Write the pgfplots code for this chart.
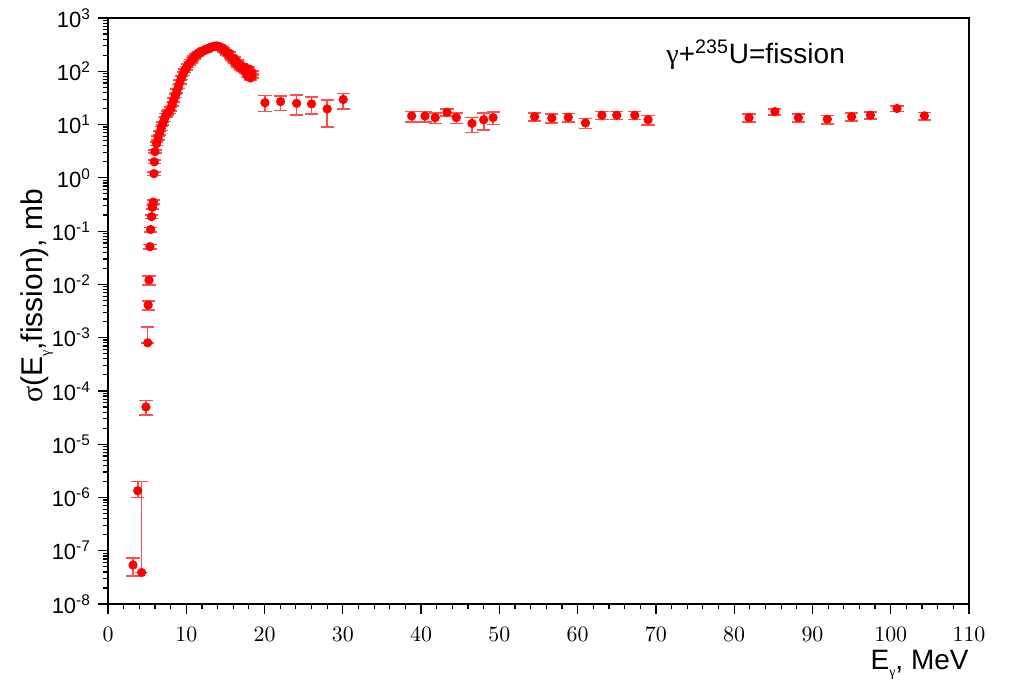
\documentclass[border=0pt]{standalone}
\usepackage{fontspec}
\setmainfont{Liberation Sans}
\newfontfamily\greek{Liberation Serif}
\usepackage{pgfplots}
\usepackage{pgfplotstable}
\pgfplotsset{compat=1.18}

\def\myminor{}
\foreach \e in {-8,...,2}{\foreach \m in {2,...,9}{\xdef\myminor{\myminor\m e\e,}}}
\xdef\myminor{\myminor 1e3}

\newcommand{\sgam}{\raisebox{-0.45ex}{\fontsize{7}{8}\selectfont\greek γ}}

\pgfplotsset{mystyle/.style={
  red, only marks, mark=*, mark size=2.1pt, mark options={fill=red, draw=red},
  error bars/y dir=both, error bars/y explicit,
  error bars/error bar style={red!70, line width=0.8pt},
  error bars/error mark options={rotate=90, mark size=3.3pt, red!70, line width=0.8pt}}}

\pgfplotstableread{
x y ep em
3.2 5.4e-8 2.0e-8 2.0e-8
4.3 3.9e-8 1.96e-6 0
3.8 1.34e-6 0.66e-6 0.34e-6
4.85 5.0e-5 1.6e-5 1.5e-5
5.07 8e-4 8e-4 0
5.13 4.1e-3 0.8e-3 0.8e-3
5.24 1.2e-2 0.25e-2 0.23e-2
5.36 0.051 0.005 0.005
5.45 0.107 0.01 0.01
5.57 0.187 0.015 0.015
5.66 0.28 0.02 0.02
5.79 0.35 0.03 0.03
5.87 1.2 0.1 0.1
5.91 2.0 0.15 0.15
6.0 3.1 0.2 0.2
}\lowE

\pgfplotstableread{
x y ep em
6.2 4.4 0.35 0.35
6.4 5.6 0.45 0.45
6.6 7.0 0.55 0.55
6.8 8.5 0.7 0.7
7.0 10.5 0.8 0.8
7.2 12.5 1.0 1.0
7.4 15 1.2 1.2
7.6 16.5 1.3 1.3
7.8 17.5 1.4 1.4
8.0 19.5 1.6 1.6
8.2 24 1.9 1.9
8.4 29 2.3 2.3
8.6 35 2.8 2.8
8.8 43 3.4 3.4
9.0 52 4.2 4.2
9.2 63 5 5
9.4 76 6 6
9.6 90 7 7
9.8 103 8 8
10.0 115 9 9
10.2 128 10 10
10.4 142 11 11
10.6 155 12 12
10.8 168 13 13
11.0 182 14 14
11.2 196 15 15
11.4 208 16 16
11.6 218 17 17
11.8 228 18 18
12.0 237 19 19
12.2 246 19 19
12.4 253 20 20
12.6 260 20 20
12.8 268 21 21
13.0 277 22 22
13.2 283 22 22
13.4 289 23 23
13.6 294 23 23
13.8 298 24 24
14.0 296 24 24
14.2 291 23 23
14.4 282 22 22
14.6 267 21 21
14.8 251 20 20
15.0 236 19 19
15.2 222 18 18
15.4 207 17 17
15.5 215 17 17
15.6 193 15 15
15.8 178 14 14
16.0 164 13 13
16.2 152 12 12
16.2 170 14 14
16.4 141 11 11
16.5 150 12 12
16.6 131 10 10
16.8 123 10 10
17.0 116 9 9
17.0 130 10 10
17.2 110 9 9
17.4 104 8 8
17.5 118 9 9
17.6 99 8 8
17.8 94 7 7
17.8 82 6 6
18.0 88 7 7
18.0 110 9 9
18.2 84 7 7
18.2 75 6 6
18.4 80 6 6
18.4 95 7 7
}\giant

\pgfplotstableread{
x y ep em
20.05 25.7 9.3 8.2
22.05 27 7.6 8.7
24.1 25 10.5 9.8
26.0 24.4 8.1 8.6
28.0 19.6 9.1 10.5
30.05 29.5 9.1 10
38.8 14.5 3 3.3
40.5 14.5 3 3.3
41.8 13.5 3 3
43.3 17 2.5 2.5
44.5 13.5 3 3
46.5 10.5 3 3.4
48.0 12.3 4 4.3
49.2 13.5 3.5 3.5
54.5 14.1 2.5 2.5
56.7 13.2 2.5 2.5
58.8 13.7 2.5 2.5
61.0 10.7 2.2 2.2
63.1 15 2.5 2.5
65.0 15 2.5 2.5
67.3 15 2.5 2.5
69.0 12.3 2.4 2.4
81.9 13.5 2.3 2.3
85.2 17.5 2.3 2.3
88.2 13.5 2.3 2.3
91.9 12.6 2.3 2.3
95.0 14.1 2.3 2.3
97.4 15 2.3 2.3
100.8 20 2.4 2.4
104.3 14.6 2.3 2.3
}\highE

\begin{document}
\begin{tikzpicture}
\path[use as bounding box] (-54pt,-41.5pt) rectangle (451.5pt,302pt);
\begin{axis}[
  at={(0,0)}, anchor=south west,
  scale only axis, width=430.5pt, height=293pt,
  xmin=0, xmax=110, ymin=1e-8, ymax=1e3,
  ymode=log,
  xtick={0,10,...,110}, minor x tick num=4,
  ytick={1e-8,1e-7,1e-6,1e-5,1e-4,1e-3,1e-2,1e-1,1,1e1,1e2,1e3},
  yticklabels={10\textsuperscript{-8},10\textsuperscript{-7},10\textsuperscript{-6},10\textsuperscript{-5},10\textsuperscript{-4},10\textsuperscript{-3},10\textsuperscript{-2},10\textsuperscript{-1},10\textsuperscript{0},10\textsuperscript{1},10\textsuperscript{2},10\textsuperscript{3}},
  minor ytick/.expanded={\myminor},
  tick pos=left, tick align=outside,
  major tick length=5pt, minor tick length=2.5pt,
  tick style={black, line width=0.6pt},
  axis line style={line width=1pt},
  ticklabel style={font=\fontsize{11}{13}\selectfont},
  xticklabel style={yshift=-3pt},
  xlabel={E\sgam, MeV},
  ylabel={{\greek σ}(E\sgam,fission), mb},
  label style={font=\fontsize{14}{16}\selectfont},
  x label style={at={(axis description cs:1,0)}, anchor=north east, yshift=-23pt, inner sep=0pt},
  y label style={at={(axis description cs:-0.0825,0.526)}, anchor=center, font=\fontsize{15}{17}\selectfont},
  clip=false,
]
\addplot[mystyle] table[x=x, y=y, y error plus=ep, y error minus=em] {\lowE};
\addplot[mystyle] table[x=x, y=y, y error plus=ep, y error minus=em] {\giant};
\addplot[mystyle] table[x=x, y=y, y error plus=ep, y error minus=em] {\highE};
\node[anchor=base west, inner sep=0pt, font=\fontsize{14}{16}\selectfont] at (axis cs:71.3,137) {{\greek γ}+\textsuperscript{235}U=fission};
\end{axis}
\end{tikzpicture}
\end{document}
